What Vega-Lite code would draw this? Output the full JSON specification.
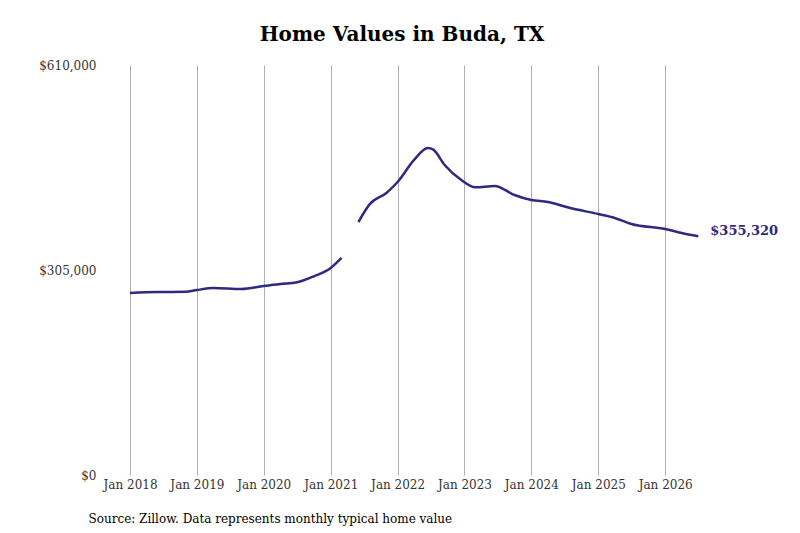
{
  "$schema": "https://vega.github.io/schema/vega-lite/v6.json",
  "autosize": "none",
  "width": 680,
  "height": 410,
  "padding": {"left": 102, "top": 65, "right": 18, "bottom": 58},
  "background": "white",
  "config": {"font": "DejaVu Serif", "view": {"stroke": null}},
  "title": {"text": "Home Values in Buda, TX", "fontSize": 20, "fontWeight": "bold", "font": "DejaVu Serif", "anchor": "middle", "offset": 14, "dx": -40},
  "data": {"values": [
    {"date": "2018-01-01", "value": 270800, "seg": 1},
    {"date": "2018-06-01", "value": 272300, "seg": 1},
    {"date": "2018-11-01", "value": 272500, "seg": 1},
    {"date": "2019-01-01", "value": 275200, "seg": 1},
    {"date": "2019-04-01", "value": 278200, "seg": 1},
    {"date": "2019-09-01", "value": 276700, "seg": 1},
    {"date": "2020-01-01", "value": 281200, "seg": 1},
    {"date": "2020-04-01", "value": 284200, "seg": 1},
    {"date": "2020-07-01", "value": 286700, "seg": 1},
    {"date": "2020-10-01", "value": 295600, "seg": 1},
    {"date": "2021-01-01", "value": 308000, "seg": 1},
    {"date": "2021-03-01", "value": 322900, "seg": 1},
    {"date": "2021-06-01", "value": 376400, "seg": 2},
    {"date": "2021-08-01", "value": 402700, "seg": 2},
    {"date": "2021-11-01", "value": 419600, "seg": 2},
    {"date": "2022-01-01", "value": 435900, "seg": 2},
    {"date": "2022-04-01", "value": 468700, "seg": 2},
    {"date": "2022-06-15", "value": 486500, "seg": 2},
    {"date": "2022-07-15", "value": 484000, "seg": 2},
    {"date": "2022-09-15", "value": 461200, "seg": 2},
    {"date": "2022-12-15", "value": 438900, "seg": 2},
    {"date": "2023-03-01", "value": 428000, "seg": 2},
    {"date": "2023-06-15", "value": 430000, "seg": 2},
    {"date": "2023-10-01", "value": 416600, "seg": 2},
    {"date": "2024-01-01", "value": 409100, "seg": 2},
    {"date": "2024-04-01", "value": 406200, "seg": 2},
    {"date": "2024-08-01", "value": 397200, "seg": 2},
    {"date": "2025-01-01", "value": 388300, "seg": 2},
    {"date": "2025-04-01", "value": 382400, "seg": 2},
    {"date": "2025-07-01", "value": 373400, "seg": 2},
    {"date": "2026-01-01", "value": 366000, "seg": 2},
    {"date": "2026-04-01", "value": 360000, "seg": 2},
    {"date": "2026-07-01", "value": 355320, "seg": 2, "label": "$355,320"}
  ]},
  "encoding": {
    "x": {"field": "date", "type": "temporal",
      "scale": {"domain": ["2017-08-01", "2027-10-01"]},
      "axis": {"values": ["2018-01-01","2019-01-01","2020-01-01","2021-01-01","2022-01-01","2023-01-01","2024-01-01","2025-01-01","2026-01-01"],
        "format": "Jan %Y", "grid": true, "gridColor": "#b0b0b0", "domain": false, "ticks": false,
        "labelFontSize": 12, "labelColor": "#333", "labelPadding": 4,
        "title": "Source: Zillow. Data represents monthly typical home value",
        "titleFontWeight": "normal", "titleFontSize": 12, "titleColor": "black",
        "titleAnchor": "start", "titleX": -14, "titleY": 38}},
    "y": {"field": "value", "type": "quantitative",
      "scale": {"domain": [0, 610000]},
      "axis": {"values": [0, 305000, 610000], "format": "$,d", "grid": false, "domain": false, "ticks": false,
        "labelFontSize": 12, "labelColor": "#333", "labelPadding": 6, "title": null}}
  },
  "layer": [
    {"mark": {"type": "line", "color": "#2e2a7f", "strokeWidth": 2.5, "interpolate": "monotone"},
     "encoding": {"detail": {"field": "seg"}}},
    {"transform": [{"filter": "datum.label"}],
     "mark": {"type": "text", "align": "left", "dx": 12, "dy": -5, "fontSize": 13, "fontWeight": "bold", "color": "#2e2a7f"},
     "encoding": {"text": {"field": "label"}}}
  ]
}
